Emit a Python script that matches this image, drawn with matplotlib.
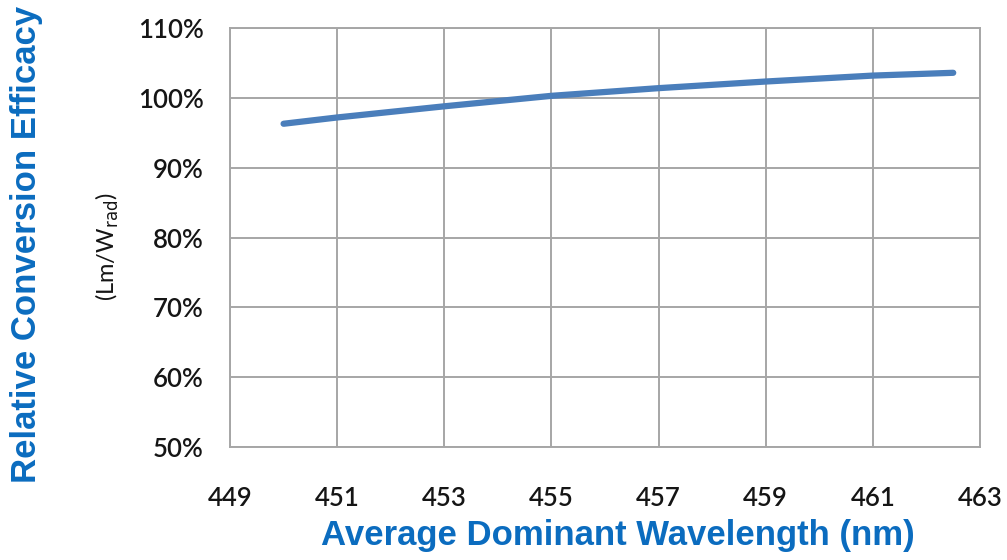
import numpy as np
import matplotlib.pyplot as plt
from matplotlib.ticker import FuncFormatter

# values
wavelength = [450.0, 451.0, 453.0, 455.0, 457.0, 459.0, 461.0, 462.5]
efficacy = [96.3, 97.2, 98.8, 100.3, 101.4, 102.35, 103.2, 103.6]

x_ticks = [449, 451, 453, 455, 457, 459, 461, 463]
y_ticks = [50, 60, 70, 80, 90, 100, 110]

blue_title = '#0b6cbf'
line_blue = '#4a7ebb'
grid_gray = '#a6a6a6'

fig = plt.figure(figsize=(10.07, 5.6), dpi=100)
ax = fig.add_axes([0.2284, 0.2018, 0.7448, 0.748])

ax.plot(wavelength, efficacy, color=line_blue, lw=4.5, solid_capstyle='round')

ax.set_xlim(449, 463)
ax.set_ylim(50, 110)
ax.set_xticks(x_ticks)
ax.set_yticks(y_ticks)
ax.yaxis.set_major_formatter(FuncFormatter(lambda v, p: '%d%%' % v))
ax.grid(True, color=grid_gray, lw=1.4)
ax.set_axisbelow(True)
for s in ax.spines.values():
    s.set_color(grid_gray)
    s.set_linewidth(1.4)
ax.tick_params(length=0, labelsize=18.5, colors='#151515')
ax.tick_params(axis='x', pad=28)
ax.tick_params(axis='y', pad=19)
for lab in ax.get_xticklabels() + ax.get_yticklabels():
    lab.set_fontfamily('Lato')
    lab.set_fontweight('semibold')

ax.set_xlabel('Average Dominant Wavelength (nm)', fontsize=25, fontweight='bold',
              color=blue_title, family='Liberation Sans')
ax.xaxis.set_label_coords(0.517, -0.172)
fig.text(0.026, 0.563, 'Relative Conversion Efficacy', rotation=90, fontsize=25,
         fontweight='bold', color=blue_title, family='Liberation Sans',
         ha='center', va='center')
fig.text(0.107, 0.56, r'(Lm/W$_{\mathrm{rad}}$)', rotation=90, fontsize=17,
         color='#151515', family='Lato', ha='center', va='center')

fig.savefig('out.png', dpi=100)
